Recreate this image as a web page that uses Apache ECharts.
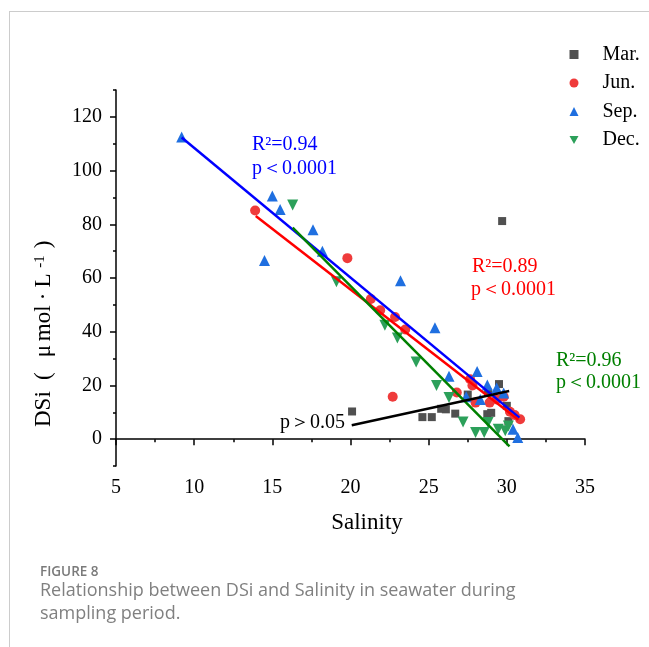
<!DOCTYPE html>
<html>
<head>
<meta charset="utf-8">
<script src="https://cdn.jsdelivr.net/npm/echarts@6/dist/echarts.min.js"></script>
<style>html,body{margin:0;padding:0;background:#fff;}#c{width:649px;height:647px;}</style>
</head>
<body>
<div id="c"></div>
<script>
// ---- data ----
const marX = [29.7, 20.1, 24.6, 25.2, 25.8, 26.1, 26.7, 27.5, 28.8, 28.75, 29.0, 29.5, 30.0, 30.1];
const marY = [81.2, 10.3, 8.2, 8.2, 11.3, 11.1, 9.5, 16.6, 17.3, 9.3, 9.8, 20.5, 12.4, 6.7];
const junX = [13.9, 19.8, 21.3, 21.9, 22.85, 23.5, 22.7, 26.8, 27.65, 27.8, 28.0, 28.9, 29.35, 29.8, 30.2, 30.5, 30.85];
const junY = [85.1, 67.4, 52.2, 48.0, 45.5, 40.8, 15.8, 17.4, 22.3, 20.0, 13.6, 13.6, 14.8, 15.8, 10.2, 9.0, 7.4];
const sepX = [9.2, 15.0, 15.5, 14.5, 17.6, 18.2, 23.2, 25.4, 26.3, 28.1, 28.75, 29.35, 29.8, 27.4, 28.3, 30.4, 30.7];
const sepY = [112.5, 90.5, 85.5, 66.5, 78.0, 70.0, 59.0, 41.5, 23.4, 25.2, 20.2, 19.0, 17.2, 15.8, 14.8, 3.7, 0.6];
const decX = [16.3, 19.1, 22.2, 23.0, 24.2, 25.5, 26.3, 27.2, 28.0, 28.55, 28.8, 29.45, 29.9, 30.1];
const decY = [87.2, 58.6, 42.4, 37.7, 28.7, 20.0, 15.5, 6.4, 2.5, 2.5, 6.2, 3.7, 3.1, 4.9];
const sepFitX = [9.2, 30.8],  sepFitY = [112.3, 8.0];
const junFitX = [13.94, 30.74], junFitY = [83.1, 7.2];
const decFitX = [16.3, 30.17], decFitY = [78.8, -2.7];
const marFitX = [20.08, 30.15], marFitY = [5.2, 17.9];
const seriesNames = ['Mar.', 'Jun.', 'Sep.', 'Dec.'];
const xTicks = [5, 10, 15, 20, 25, 30, 35];
const yMajor = [0, 20, 40, 60, 80, 100, 120];
const yMinor = [-10, 10, 30, 50, 70, 90, 110, 130];

const zip = (a, b) => a.map((v, i) => [v, b[i]]);
const serif = 'Liberation Serif';
const chart = echarts.init(document.getElementById('c'), null, {renderer: 'canvas'});

function scatter(name, xs, ys, symbol, size, color, rot) {
  return {name, type: 'scatter', data: zip(xs, ys), symbol, symbolSize: size,
    symbolRotate: rot || 0, itemStyle: {color, opacity: 1}, z: 2};
}
function fit(xs, ys, color) {
  return {type: 'line', data: zip(xs, ys), symbol: 'none', lineStyle: {color, width: 2.5},
    z: 3, silent: true, legendHoverLink: false};
}
function txt(x, y, s, color) {
  return {type: 'text', x, y, style: {text: s, fill: color, font: '20px "Liberation Serif"',
    textAlign: 'left', textVerticalAlign: 'middle'}};
}
const T = {fontFamily: serif, fontSize: 23, fill: '#000', verticalAlign: 'middle'};

chart.setOption({
  animation: false,
  grid: {left: 116, right: 64, top: 90, bottom: 181, containLabel: false},
  xAxis: {type: 'value', min: 5, max: 35, interval: 5,
    axisLine: {lineStyle: {color: '#000', width: 1.5}},
    axisTick: {length: 6, lineStyle: {color: '#000', width: 1.5}},
    minorTick: {show: true, splitNumber: 2, length: 3, lineStyle: {color: '#000', width: 1.5}},
    axisLabel: {color: '#000', fontFamily: serif, fontSize: 20, margin: 12, formatter: v => xTicks.includes(v) ? String(v) : ''},
    splitLine: {show: false}},
  yAxis: [
    {type: 'value', min: -10, max: 130, position: 'left',
      axisLine: {show: true, onZero: false, lineStyle: {color: '#000', width: 1.5}},
      axisTick: {show: true, customValues: yMajor, length: 6, lineStyle: {color: '#000', width: 1.5}},
      axisLabel: {customValues: yMajor, color: '#000', fontFamily: serif, fontSize: 20, margin: 14},
      splitLine: {show: false}},
    {type: 'value', min: -10, max: 130, position: 'left',
      axisLine: {show: false},
      axisTick: {show: true, customValues: yMinor, length: 3, lineStyle: {color: '#000', width: 1.5}},
      axisLabel: {show: false}, splitLine: {show: false}}
  ],
  legend: {
    data: [
      {name: 'Mar.', icon: 'rect'},
      {name: 'Jun.', icon: 'circle'},
      {name: 'Sep.', icon: 'triangle'},
      {name: 'Dec.', icon: 'path://M0,0 L10,0 L5,8.66 Z'}
    ],
    orient: 'vertical', left: 564.5, top: 39.5, itemWidth: 9, itemHeight: 9,
    itemGap: 8.5, textStyle: {color: '#000', fontFamily: serif, fontSize: 20, padding: [0, 0, 0, 19]}, selectedMode: false},
  series: [
    scatter('Mar.', marX, marY, 'rect', 8, '#505050'),
    scatter('Jun.', junX, junY, 'circle', 10, '#ef3b3b'),
    scatter('Sep.', sepX, sepY, 'triangle', 11, '#1f6fe0'),
    scatter('Dec.', decX, decY, 'triangle', 11, '#2ca05a', 180),
    fit(sepFitX, sepFitY, '#0000ff'),
    fit(junFitX, junFitY, '#ff0000'),
    fit(decFitX, decFitY, '#008000'),
    fit(marFitX, marFitY, '#000000')
  ],
  graphic: [
    {type: 'line', shape: {x1: 9, y1: 11.5, x2: 649, y2: 11.5}, style: {stroke: '#cccccc', lineWidth: 1}},
    {type: 'line', shape: {x1: 9.5, y1: 11, x2: 9.5, y2: 647}, style: {stroke: '#cccccc', lineWidth: 1}},
    txt(252, 145, 'R²=0.94', '#0000ff'),
    txt(252, 169, 'p＜0.0001', '#0000ff'),
    txt(472, 267, 'R²=0.89', '#ff0000'),
    txt(471, 290, 'p＜0.0001', '#ff0000'),
    txt(556, 361, 'R²=0.96', '#008000'),
    txt(556, 383, 'p＜0.0001', '#008000'),
    txt(280, 423, 'p＞0.05', '#000000'),
    {type: 'text', x: 367, y: 523, style: {text: '{a|Salinity}', textAlign: 'center', textVerticalAlign: 'middle',
      rich: {a: {fontFamily: serif, fontSize: 23, fill: '#000'}}}},
    {type: 'text', x: 44, y: 427, rotation: Math.PI / 2, style: {
      text: '{a|DSi}{g|(}{m|μ}{a|mol}{d|·}{a|L}{s|-1}{c|)}',
      textAlign: 'left', textVerticalAlign: 'middle',
      rich: {
        a: T,
        g: Object.assign({}, T, {width: 30, align: 'center'}),
        m: Object.assign({}, T, {width: 20, align: 'center'}),
        d: Object.assign({}, T, {width: 18, align: 'center'}),
        s: {fontFamily: serif, fontSize: 15, fill: '#000', verticalAlign: 'top', width: 24, align: 'center', padding: [0, 0, 8, 0]},
        c: Object.assign({}, T, {width: 10, align: 'left'})
      }}},
    {type: 'text', x: 40, y: 572, style: {text: 'FIGURE 8', fill: '#7a7a7a', font: '600 13.5px "Open Sans"',
      textAlign: 'left', textVerticalAlign: 'middle'}},
    {type: 'text', x: 40, y: 591, style: {text: 'Relationship between DSi and Salinity in seawater during', fill: '#808080', font: '18px "Open Sans"',
      textAlign: 'left', textVerticalAlign: 'middle'}},
    {type: 'text', x: 40, y: 614, style: {text: 'sampling period.', fill: '#808080', font: '18px "Open Sans"',
      textAlign: 'left', textVerticalAlign: 'middle'}}
  ]
});
</script>
</body>
</html>
